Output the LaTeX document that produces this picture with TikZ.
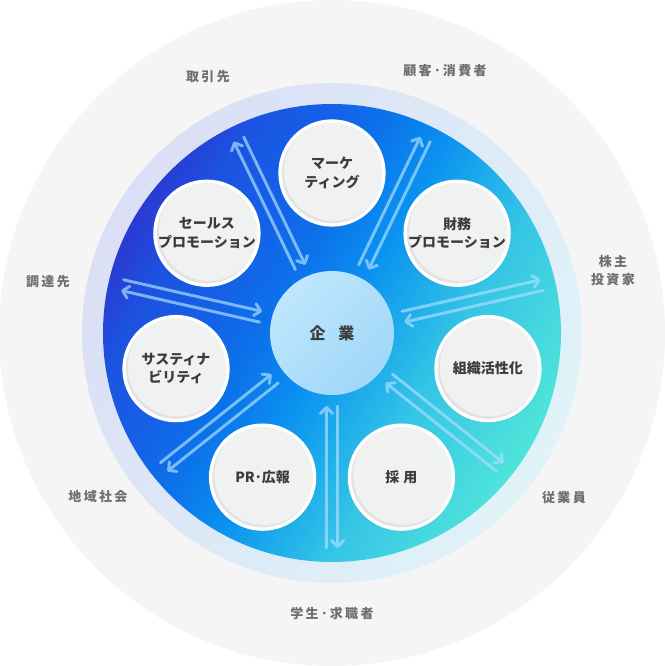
\documentclass[tikz,border=0pt]{standalone}
\usepackage{fontspec}
\setmainfont{Noto Sans CJK JP}
\newfontfamily\ringfont[LetterSpace=18]{Noto Sans CJK JP}
\usetikzlibrary{arrows.meta,shadows,calc}

\definecolor{ringgray}{HTML}{F5F5F5}
\definecolor{haloL}{HTML}{DBDFF5}
\definecolor{haloR}{HTML}{DFF3F8}
\definecolor{discA}{HTML}{2A3AD2}
\definecolor{discB}{HTML}{1C52E0}
\definecolor{discC}{HTML}{1462E8}
\definecolor{discD}{HTML}{0B72EA}
\definecolor{discE}{HTML}{0A90F0}
\definecolor{discF}{HTML}{18A5EC}
\definecolor{discG}{HTML}{35C5E6}
\definecolor{discH}{HTML}{4FE4DA}
\definecolor{coreA}{HTML}{BFE6FD}
\definecolor{coreB}{HTML}{A0D8F8}
\definecolor{satfill}{HTML}{F0F1F1}
\definecolor{satedge}{HTML}{E1E3E4}
\definecolor{flowblue}{HTML}{A8DEFF}
\definecolor{lblgray}{HTML}{6E6E6E}
\definecolor{txtdark}{HTML}{3C3C3C}

\pgfdeclarehorizontalshading{discshade}{100bp}{color(0bp)=(discA); color(25bp)=(discA);
  color(30.3bp)=(discB); color(38bp)=(discC); color(43.4bp)=(discD); color(50bp)=(discE);
  color(54.4bp)=(discF); color(62bp)=(discG); color(75bp)=(discH); color(100bp)=(discH)}
\pgfdeclarehorizontalshading{haloshade}{100bp}{color(0bp)=(haloL); color(25bp)=(haloL);
  color(75bp)=(haloR); color(100bp)=(haloR)}

\begin{document}
\begin{tikzpicture}[
    x=0.75pt, y=0.75pt,
    sat/.style={circle, minimum size=78pt, inner sep=0pt, outer sep=0pt,
      fill=satfill, draw=white, line width=2.5pt,
      circular drop shadow={shadow xshift=0pt, shadow yshift=-1.5pt, shadow scale=1.02, opacity=0.25},
      path picture={
        \fill[satedge] (path picture bounding box.center) circle (40pt);
        \fill[satfill] ([shift={(1.3pt,1.6pt)}]path picture bounding box.center) circle (37.4pt);
      },
      font=\bfseries\fontsize{10.5}{14}\selectfont, text=txtdark, align=center},
    core/.style={circle, minimum size=93pt, inner sep=0pt, outer sep=0pt,
      top color=coreA, bottom color=coreB, shading angle=45,
      font=\bfseries\fontsize{12}{14}\selectfont, text=txtdark},
    ringlbl/.style={font=\ringfont\bfseries\fontsize{9.75}{13.5}\selectfont,
      text=lblgray, align=center},
    flow/.style={draw=flowblue, line width=2.2pt, line cap=round,
      -{Straight Barb[length=4.5pt, width=9pt, round]}}
  ]
  \useasboundingbox (-332,-333) rectangle (332,333);

  % rings
  \fill[ringgray] (0,0) circle (333);
  \shade[shading=haloshade, shading angle=-30] (0,0) circle (250);
  \shade[shading=discshade, shading angle=-30] (0,0) circle (229);

  \node[core] (core) at (0,0) {企\hspace{0.8em}業};

  % arrows between the circles
  \foreach \a [count=\i] in {115.71,64.29,12.86,321.43,270,218.57,167.14}{
    \coordinate (rim\i) at (\a:215);
    \begin{scope}[transparency group, opacity=0.7]
      \draw[flow] ($(core)+(\a:73)+(\a+90:5.5)$) -- ($(rim\i)+(\a+90:5.5)$);
      \draw[flow] ($(rim\i)+(\a-90:5.5)$) -- ($(core)+(\a:73)+(\a-90:5.5)$);
    \end{scope}
  }

  \node[sat] (mkt)  at (90:160)      {マーケ\\ティング};
  \node[sat] (fin)  at (38.57:160)   {財務\\プロモーション};
  \node[sat] (org)  at (-12.86:160)  {組織活性化};
  \node[sat] (hire) at (-64.29:160)  {採\hspace{0.3em}用};
  \node[sat] (pr)   at (-115.71:160) {PR･広報};
  \node[sat] (sus)  at (-167.14:160) {サスティナ\\ビリティ};
  \node[sat] (sales) at (141.43:160) {セールス\\プロモーション};

  % stakeholders
  \node[ringlbl] (partner)  at (-124,256) {取引先};
  \node[ringlbl] (customer) at (113,262)  {顧客･消費者};
  \node[ringlbl] (investor) at (281,62)   {株主\\投資家};
  \node[ringlbl] (staff)    at (232,-165) {従業員};
  \node[ringlbl] (student)  at (0,-281)   {学生･求職者};
  \node[ringlbl] (local)    at (-234,-164) {地域社会};
  \node[ringlbl] (supplier) at (-284,51)  {調達先};
\end{tikzpicture}
\end{document}
